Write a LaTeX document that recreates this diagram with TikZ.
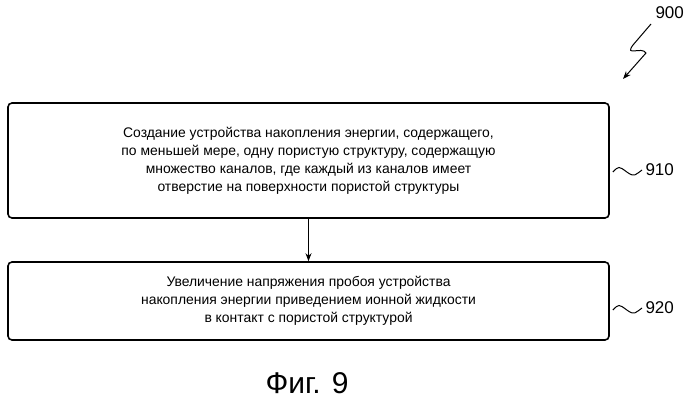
\documentclass[tikz,border=0pt]{standalone}
\usepackage{fontspec}
\setmainfont{Liberation Sans}
\usetikzlibrary{arrows.meta}
\begin{document}
\begin{tikzpicture}[x=1pt,y=-1pt,
  box/.style={draw,line width=1.6pt,rounded corners=4pt,minimum width=601pt,align=center,font=\fontsize{13.9}{18}\selectfont},
  lbl/.style={font=\fontsize{17}{20}\selectfont,anchor=west},
  arr/.style={-{Stealth[length=8pt,width=6pt]},line width=1pt}]
\useasboundingbox (0,0) rectangle (699,406);
\node[box,minimum height=115pt] (b1) at (308.5,160.5) {Создание устройства накопления энергии, содержащего,\\по меньшей мере, одну пористую структуру, содержащую\\множество каналов, где каждый из каналов имеет\\отверстие на поверхности пористой структуры};
\node[box,minimum height=78pt] (b2) at (308.5,301) {Увеличение напряжения пробоя устройства\\накопления энергии приведением ионной жидкости\\в контакт с пористой структурой};
\draw[arr] (b1.south) -- (b2.north);
\node[lbl] (l1) at (642,170) {910};
\node[lbl] (l2) at (642,308) {920};
\node[lbl] (l0) at (652,13) {900};
\coordinate (s1) at (b1.east|-l1);
\coordinate (s2) at (b2.east|-l2);
\draw[line width=1pt] (s1) ++(3,2) .. controls +(6,-6) and +(-8,-6) .. ++(14,0) .. controls +(8,6) and +(-6,4) .. (l1.west);
\draw[line width=1pt] (s2) ++(3,2) .. controls +(6,-6) and +(-8,-6) .. ++(14,0) .. controls +(8,6) and +(-6,4) .. (l2.west);
\coordinate (z0) at (651,24);
\coordinate (z1) at (623,79);
\draw[arr,line width=1pt] (z0) -- (633,45) .. controls (624,57) and (642,46) .. (646,53) -- (z1);
\node[font=\fontsize{30}{34}\selectfont] (fig) at (307,383) {Фиг. 9};
\end{tikzpicture}
\end{document}
